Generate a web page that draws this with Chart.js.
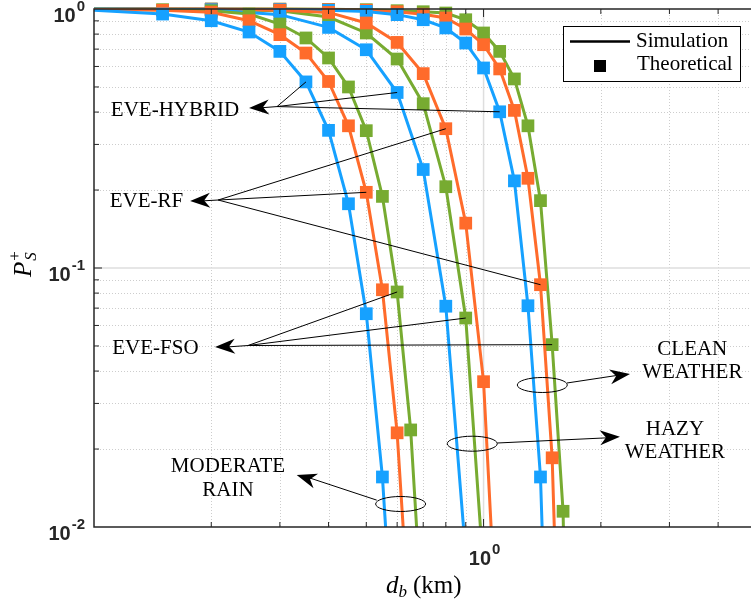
<!DOCTYPE html>
<html>
<head>
<meta charset="utf-8">
<script src="https://cdn.jsdelivr.net/npm/chart.js@4.4.1/dist/chart.umd.min.js"></script>
<style>
  html, body { margin: 0; padding: 0; background: #fff; }
  canvas { display: block; }
</style>
</head>
<body>
<canvas id="myChart" width="751" height="604"></canvas>
<script>
"use strict";

// distance d_b (km)
const distRain = [0.1, 0.15, 0.2, 0.25, 0.3, 0.35, 0.4, 0.45, 0.5, 0.55, 0.6, 0.65, 0.7];
const distWeather = [0.1, 0.2, 0.3, 0.4, 0.5, 0.6, 0.7, 0.8, 0.9, 1.0, 1.1, 1.2, 1.3, 1.4, 1.5, 1.6, 1.7];

// P_S^+ , moderate rain
const rainHybrid = [0.989, 0.956, 0.901, 0.815, 0.686, 0.523, 0.340, 0.177, 0.0666, 0.0156, 0.0020];
const rainRF = [0.996, 0.989, 0.972, 0.901, 0.796, 0.676, 0.525, 0.354, 0.196, 0.0824, 0.0231, 0.0035];
const rainFSO = [0.998, 0.994, 0.985, 0.956, 0.875, 0.773, 0.647, 0.500, 0.339, 0.189, 0.0808, 0.0237, 0.0038];

// hazy weather
const hazyHybrid = [0.999, 0.994, 0.951, 0.849, 0.696, 0.476, 0.240, 0.0712, 0.0078];
const hazyRF = [0.9995, 0.997, 0.989, 0.970, 0.883, 0.743, 0.563, 0.345, 0.149, 0.0364, 0.0023];
const hazyFSO = [0.9995, 0.996, 0.985, 0.931, 0.808, 0.641, 0.431, 0.206, 0.0641, 0.0067];

// clean weather
const cleanHybrid = [0.9995, 0.998, 0.995, 0.989, 0.979, 0.951, 0.909, 0.845, 0.739, 0.592, 0.401, 0.217, 0.0715, 0.0156, 0.00063];
const cleanRF = [0.9998, 0.999, 0.998, 0.995, 0.989, 0.976, 0.955, 0.923, 0.837, 0.728, 0.587, 0.406, 0.222, 0.0862, 0.0185, 0.00079];
const cleanFSO = [0.9999, 0.9995, 0.999, 0.997, 0.994, 0.985, 0.976, 0.965, 0.909, 0.808, 0.686, 0.537, 0.354, 0.182, 0.0506, 0.0115, 0.0001];

// axes
const xMinorGrid = [0.2, 0.3, 0.4, 0.5, 0.6, 0.7, 0.8, 0.9, 2, 3, 4];
const xMajorGrid = [1];
const yMinorGrid = [0.02, 0.03, 0.04, 0.05, 0.06, 0.07, 0.08, 0.09, 0.2, 0.3, 0.4, 0.5, 0.6, 0.7, 0.8, 0.9];
const yMajorGrid = [0.1];
const xTickLabels = [{ value: 1, exp: "0" }];
const yTickLabels = [{ value: 1, exp: "0" }, { value: 0.1, exp: "-1" }, { value: 0.01, exp: "-2" }];
const legendLabels = ["Simulation", "Theoretical"];

const colHybrid = "#16a1ff";
const colRF = "#ff6b2b";
const colFSO = "#77ab31";

const SERIF = '"Liberation Serif", "Times New Roman", serif';
const SANS = '"Liberation Sans", Arial, sans-serif';

// annotations: dataset index / point index of the pointed markers
const eveNotes = [
  { text: "EVE-HYBRID", at: [0.1614, 0.404], tip: [0.25, 0.415], hub: [0.295, 0.42], marks: [[0, 5], [3, 5], [6, 10]] },
  { text: "EVE-RF", at: [0.1364, 0.1814], tip: [0.1765, 0.1814], hub: [0.2083, 0.183], marks: [[1, 8], [4, 7], [7, 13]] },
  { text: "EVE-FSO", at: [0.1438, 0.0491], tip: [0.2045, 0.0495], hub: [0.2485, 0.0502], marks: [[2, 10], [5, 8], [8, 14]] },
];
const weatherNotes = [
  { lines: ["MODERATE", "RAIN"], at: [0.2208, 0.01705], ring: [0.6125, 0.01227], from: [0.5317, 0.0127], tip: [0.3314, 0.01588] },
  { lines: ["HAZY", "WEATHER"], at: [3.099, 0.0239], ring: [0.9354, 0.02097], from: [1.0844, 0.0211], tip: [2.239, 0.02232] },
  { lines: ["CLEAN", "WEATHER"], at: [3.434, 0.04855], ring: [1.415, 0.03534], from: [1.637, 0.03597], tip: [2.376, 0.03898] },
];

function serie(dist, vals, color) {
  return {
    data: vals.map((v, i) => ({ x: dist[i], y: v })),
    showLine: true,
    borderColor: color,
    backgroundColor: color,
    borderWidth: 3,
    pointStyle: "rect",
    pointRadius: (c) => (c.dataIndex === 0 ? 0 : 9),
    pointBorderWidth: 0,
    tension: 0,
    clip: { left: 0, top: 10, right: 0, bottom: 0 },
  };
}

function seg(ctx, x1, y1, x2, y2) {
  ctx.beginPath();
  ctx.moveTo(x1, y1);
  ctx.lineTo(x2, y2);
  ctx.stroke();
}

function arrowHead(ctx, x1, y1, x2, y2) {
  const ang = Math.atan2(y2 - y1, x2 - x1);
  ctx.save();
  ctx.translate(x2, y2);
  ctx.rotate(ang);
  ctx.beginPath();
  ctx.moveTo(0, 0);
  ctx.lineTo(-20, -7.5);
  ctx.lineTo(-14, 0);
  ctx.lineTo(-20, 7.5);
  ctx.closePath();
  ctx.fill();
  ctx.restore();
}

// "10" with a superscript exponent, right edge or centre at x
function powerLabel(ctx, x, base, exp, align) {
  ctx.font = "bold 20px " + SANS;
  const wb = ctx.measureText("10").width;
  ctx.font = "bold 15px " + SANS;
  const we = ctx.measureText(exp).width;
  const left = align === "right" ? x - wb - we - 1 : x - (wb + we + 1) / 2;
  ctx.font = "bold 20px " + SANS;
  ctx.fillText("10", left, base);
  ctx.font = "bold 15px " + SANS;
  ctx.fillText(exp, left + wb + 1, base - 11);
}

const matlabAxes = {
  id: "matlabAxes",
  beforeDatasetsDraw(chart) {
    const { ctx, chartArea: a } = chart;
    const sx = chart.scales.x, sy = chart.scales.y;
    ctx.save();
    ctx.lineWidth = 1;
    ctx.strokeStyle = "#cdcdcd";
    ctx.setLineDash([1, 2]);
    xMinorGrid.forEach((v) => {
      const p = Math.round(sx.getPixelForValue(v)) + 0.5;
      seg(ctx, p, a.top, p, a.bottom);
    });
    yMinorGrid.forEach((v) => {
      const p = Math.round(sy.getPixelForValue(v)) + 0.5;
      seg(ctx, a.left, p, a.right, p);
    });
    ctx.setLineDash([]);
    ctx.strokeStyle = "#dedede";
    ctx.lineWidth = 1.5;
    xMajorGrid.forEach((v) => {
      const p = sx.getPixelForValue(v);
      seg(ctx, p, a.top, p, a.bottom);
    });
    yMajorGrid.forEach((v) => {
      const p = sy.getPixelForValue(v);
      seg(ctx, a.left, p, a.right, p);
    });
    ctx.restore();
  },
  afterDatasetsDraw(chart) {
    const { ctx, chartArea: a } = chart;
    const sx = chart.scales.x, sy = chart.scales.y;
    const px = (p) => [sx.getPixelForValue(p[0]), sy.getPixelForValue(p[1])];
    ctx.save();

    // axes box and ticks
    ctx.strokeStyle = "#262626";
    ctx.lineWidth = 1.5;
    ctx.beginPath();
    ctx.moveTo(a.right + 2, a.top);
    ctx.lineTo(a.left, a.top);
    ctx.lineTo(a.left, a.bottom);
    ctx.lineTo(a.right + 2, a.bottom);
    ctx.stroke();
    ctx.lineWidth = 1;
    xMinorGrid.concat(xMajorGrid).forEach((v) => {
      const p = sx.getPixelForValue(v);
      const len = xMajorGrid.includes(v) ? 8 : 5;
      seg(ctx, p, a.bottom, p, a.bottom - len);
      seg(ctx, p, a.top, p, a.top + len);
    });
    yMinorGrid.concat(yMajorGrid).forEach((v) => {
      const p = sy.getPixelForValue(v);
      const len = yMajorGrid.includes(v) ? 8 : 5;
      seg(ctx, a.left, p, a.left + len, p);
    });

    // tick labels
    ctx.fillStyle = "#262626";
    ctx.textBaseline = "alphabetic";
    ctx.textAlign = "left";
    yTickLabels.forEach((t) => {
      powerLabel(ctx, 85, sy.getPixelForValue(t.value) + 13, t.exp, "right");
    });
    xTickLabels.forEach((t) => {
      powerLabel(ctx, sx.getPixelForValue(t.value) + 1, a.bottom + 38, t.exp, "center");
    });

    // axis titles
    ctx.fillStyle = "#000";
    let x0 = 386;
    ctx.font = "italic 25px " + SERIF;
    ctx.fillText("d", x0, 593);
    x0 += ctx.measureText("d").width;
    ctx.font = "italic 17px " + SERIF;
    ctx.fillText("b", x0, 597);
    x0 += ctx.measureText("b").width + 6;
    ctx.font = "25px " + SERIF;
    ctx.fillText("(km)", x0, 593);

    ctx.save();
    ctx.translate(31, 277);
    ctx.rotate(-Math.PI / 2);
    ctx.font = "italic 25px " + SERIF;
    ctx.fillText("P", 0, 0);
    const pw = ctx.measureText("P").width;
    ctx.font = "italic 17px " + SERIF;
    ctx.fillText("S", pw + 1, 5);
    ctx.font = "17px " + SERIF;
    ctx.fillText("+", pw + 1, -11);
    ctx.restore();

    // EVE annotations
    ctx.strokeStyle = "#000";
    ctx.fillStyle = "#000";
    ctx.lineWidth = 1;
    ctx.font = "21px " + SERIF;
    ctx.textAlign = "center";
    ctx.textBaseline = "middle";
    eveNotes.forEach((n) => {
      const [tx, ty] = px(n.at);
      ctx.fillText(n.text, tx, ty);
      const [hx, hy] = px(n.hub);
      const [ax, ay] = px(n.tip);
      seg(ctx, hx, hy, ax + 10, ay);
      arrowHead(ctx, hx, hy, ax, ay);
      n.marks.forEach(([d, i]) => {
        const el = chart.getDatasetMeta(d).data[i];
        seg(ctx, hx, hy, el.x, el.y);
      });
    });

    // weather annotations
    weatherNotes.forEach((n) => {
      const [tx, ty] = px(n.at);
      n.lines.forEach((s, k) => ctx.fillText(s, tx, ty + k * 23.5));
      const [rx, ry] = px(n.ring);
      ctx.beginPath();
      ctx.ellipse(rx, ry, 25, 7.5, 0, 0, Math.PI * 2);
      ctx.stroke();
      const [fx, fy] = px(n.from);
      const [ax, ay] = px(n.tip);
      seg(ctx, fx, fy, ax - (ax > fx ? 10 : -10), ay + (ax > fx ? 1 : 2));
      arrowHead(ctx, fx, fy, ax, ay);
    });

    // legend box
    ctx.fillStyle = "#fff";
    ctx.fillRect(563, 26, 177, 55);
    ctx.strokeRect(563.5, 26.5, 177, 55);
    ctx.lineWidth = 2.5;
    seg(ctx, 570, 41.5, 630, 41.5);
    ctx.fillStyle = "#000";
    ctx.fillRect(594, 60, 12, 12);
    ctx.textAlign = "left";
    ctx.font = "21px " + SERIF;
    ctx.fillText(legendLabels[0], 636, 41);
    ctx.fillText(legendLabels[1], 637, 64.5);

    ctx.restore();
  },
};

const config = {
  type: "scatter",
  data: {
    datasets: [
      serie(distRain, rainHybrid, colHybrid),
      serie(distRain, rainRF, colRF),
      serie(distRain, rainFSO, colFSO),
      serie(distWeather, hazyHybrid, colHybrid),
      serie(distWeather, hazyRF, colRF),
      serie(distWeather, hazyFSO, colFSO),
      serie(distWeather, cleanHybrid, colHybrid),
      serie(distWeather, cleanRF, colRF),
      serie(distWeather, cleanFSO, colFSO),
    ],
  },
  options: {
    responsive: false,
    animation: false,
    events: [],
    layout: { autoPadding: false, padding: { left: 0, right: 1, top: 9, bottom: 0 } },
    plugins: {
      legend: { display: false },
      tooltip: { enabled: false },
    },
    scales: {
      x: {
        type: "logarithmic",
        min: 0.1,
        max: 4.83,
        grid: { display: false },
        border: { display: false },
        ticks: { display: false },
        afterFit(s) { s.height = 77; },
      },
      y: {
        type: "logarithmic",
        min: 0.01,
        max: 1,
        grid: { display: false },
        border: { display: false },
        ticks: { display: false },
        afterFit(s) { s.width = 94; },
      },
    },
  },
  plugins: [matlabAxes],
};

new Chart(document.getElementById("myChart"), config);
</script>
</body>
</html>
